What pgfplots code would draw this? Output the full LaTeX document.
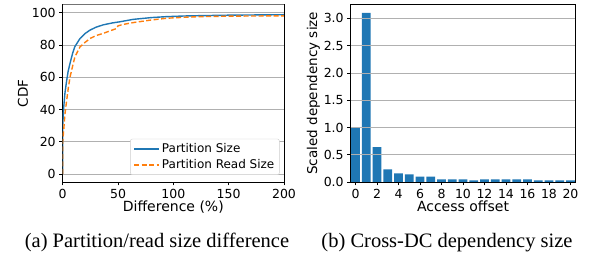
\documentclass[border=0pt]{standalone}
\usepackage{pgfplots}
\pgfplotsset{compat=1.18}
\usepackage{fontspec}
\setmainfont{DejaVu Sans}
\newfontfamily\capfont{Liberation Serif}
\definecolor{mblue}{HTML}{1F77B4}
\definecolor{morange}{HTML}{FF7F0E}
\definecolor{gridc}{HTML}{B0B0B0}
\begin{document}
\begin{tikzpicture}
\useasboundingbox (0pt,0pt) rectangle (590pt,257pt);
\pgfplotsset{
  every axis/.append style={
    scale only axis,
    font=\fontsize{12.5}{14}\selectfont,
    /pgf/number format/assume math mode=true,
    tick align=outside,
    xtick pos=bottom, ytick pos=left,
    major tick length=3.5pt,
    tick style={black, line width=0.6pt},
    axis line style={black, line width=0.8pt},
    ymajorgrids,
    grid style={gridc, line width=0.8pt},
    xlabel style={yshift=4pt, font=\fontsize{14}{16}\selectfont},
    ylabel style={yshift=-3pt, font=\fontsize{13.5}{16}\selectfont},
  }
}
\begin{axis}[
  anchor=south west,
  at={(62.7pt,75pt)},
  width=221.3pt, height=177.3pt,
  xmin=0, xmax=200, ymin=-5, ymax=105,
  xtick={0,50,100,150,200},
  ytick={0,20,40,60,80,100},
  xlabel={Difference (\%)},
  ylabel={CDF},
  legend style={at={(0.98,0.04)}, anchor=south east,
    font=\fontsize{12}{14}\selectfont,
    draw=black!20, fill=white, rounded corners=2pt, row sep=1.5pt,
    inner xsep=3pt, inner ysep=2.5pt},
  legend cell align=left,
  legend image code/.code={\draw[#1, line width=1.5pt] (0pt,0pt) -- (25pt,0pt);},
]
\addplot[color=mblue, solid, line width=1.4pt] coordinates {
(0,0) (0,30) (0.5,36) (1,42) (2,50) (3.6,58) (5,64) (6.6,68.5) (9,75) (11,79)
(15.6,84) (20,87) (24.6,89.2) (30,91) (36.6,92.5) (45,93.7) (51.7,94.4)
(63.7,95.9) (80,97) (94,97.6) (110,98) (124,98.2) (150,98.5) (200,98.8)};
\addlegendentry{Partition Size}
\addplot[color=morange, line width=1.4pt, dash pattern=on 5pt off 2.5pt] coordinates {
(0,0) (0,20) (1,28) (2,37) (3.6,45.6) (5,53) (6.6,60) (9,67) (11,72.6)
(15.6,78.8) (20,81.5) (24.6,84) (30,85.8) (36.6,87.2) (45.7,89.5) (48.6,90.2)
(50,91.9) (55,92.8) (63.7,93.9) (80,95.5) (94,96.6) (110,97.2) (124,97.6)
(150,97.9) (200,98.1)};
\addlegendentry{Partition Read Size}
\draw[black!55, line width=1.6pt] (rel axis cs:0,1) -- (rel axis cs:1,1);
\end{axis}
\node[font=\capfont\fontsize{20.5}{22}\selectfont, anchor=base] at (157pt,9pt) {(a) Partition/read size difference};
\begin{axis}[
  anchor=south west,
  at={(350.7pt,75pt)},
  width=224.6pt, height=177.5pt,
  xmin=-0.45, xmax=20.45, ymin=0, ymax=3.255,
  axis on top,
  xtick={0,2,...,20},
  ytick={0,0.5,1,1.5,2,2.5,3},
  yticklabel style={/pgf/number format/fixed, /pgf/number format/precision=1, /pgf/number format/fixed zerofill},
  xlabel={Access offset},
  ylabel={Scaled dependency size},
]
\addplot[ybar, bar width=0.8, bar shift=0pt, fill=mblue, draw=none] coordinates {
(0,1.0) (1,3.1) (2,0.64) (3,0.23) (4,0.16) (5,0.14) (6,0.10) (7,0.10)
(8,0.05) (9,0.05) (10,0.05) (11,0.03) (12,0.05) (13,0.05) (14,0.05)
(15,0.05) (16,0.05) (17,0.03) (18,0.03) (19,0.03) (20,0.03)};
\end{axis}
\node[font=\capfont\fontsize{20.5}{22}\selectfont, anchor=base] at (447pt,9pt) {(b) Cross-DC dependency size};
\end{tikzpicture}
\end{document}
